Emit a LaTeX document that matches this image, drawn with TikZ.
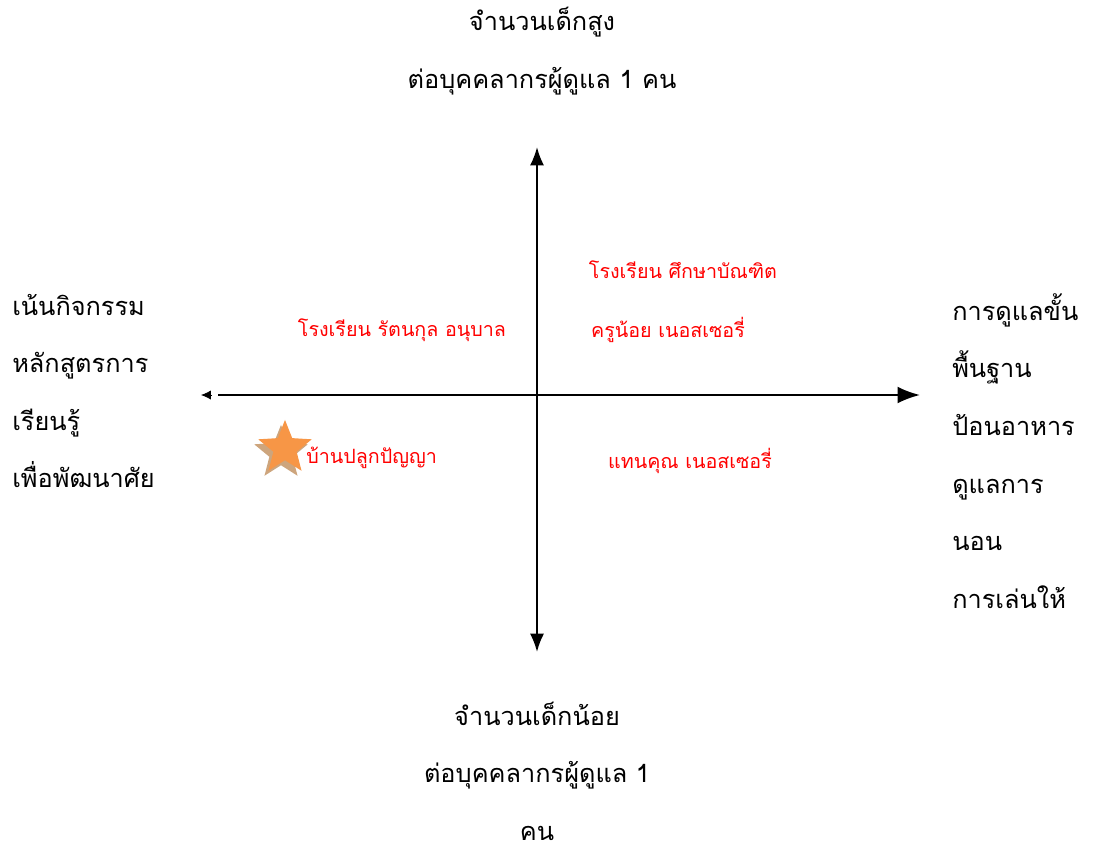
\documentclass[tikz,border=0pt]{standalone}
\usepackage{fontspec}
\newfontfamily\thaifont[Script=Thai]{Loma}
\usetikzlibrary{arrows.meta,shapes.geometric}

\begin{document}
\begin{tikzpicture}[x=0.025cm,y=-0.025cm,
        axis/.style={line width=1.5pt},
        bigtext/.style={font=\thaifont\fontsize{18pt}{41pt}\selectfont,inner sep=0pt},
        school/.style={font=\thaifont\fontsize{14pt}{17pt}\selectfont,text=red,inner sep=0pt},
        starmark/.style={star,star points=5,star point ratio=2.3,inner sep=0pt,draw=none}]

    \useasboundingbox (0,0) rectangle (1098,851);

    % axes
    \coordinate (o) at (537,395);
    \coordinate (n) at (537,147);
    \coordinate (s) at (537,652);
    \coordinate (e) at (920,395);
    \coordinate (wl) at (218,395);
    \coordinate (wt) at (212,395);
    \coordinate (w) at (201,395);

    \draw[axis,{Latex[length=13pt,width=10pt]}-{Latex[length=13pt,width=10pt]}] (n) -- (s);
    \draw[axis,-{Latex[length=16pt,width=12pt]}] (wl) -- (e);
    \draw[line width=0.5pt,-{Latex[length=7pt,width=6.5pt]}] (wt) -- (w);

    % axis captions
    \node[bigtext,align=center] (top) at (542,51) {จำนวนเด็กสูง\\ต่อบุคคลากรผู้ดูแล 1 คน};
    \node[bigtext,align=center] (bottom) at (537,771) {จำนวนเด็กน้อย\\ต่อบุคคลากรผู้ดูแล 1\\คน};
    \node[bigtext,align=left,anchor=west] (left) at (12,391) {เน้นกิจกรรม\\หลักสูตรการ\\เรียนรู้\\เพื่อพัฒนาศัย};
    \node[bigtext,align=left,anchor=west] (right) at (952,451) {การดูแลขั้น\\พื้นฐาน\\ป้อนอาหาร\\ดูแลการ\\นอน\\การเล่นให้};

    % schools
    \node[school] (suksa) at (683,270) {โรงเรียน ศึกษาบัณฑิต};
    \node[school] (rattana) at (402,330) {โรงเรียน รัตนกุล อนุบาล};
    \node[school] (krunoi) at (668,330) {ครูน้อย เนอสเซอรี่};
    \node[school] (thankhun) at (690,461) {แทนคุณ เนอสเซอรี่};
    \node[school,anchor=west] (banplook) at (306,458) {บ้านปลูกปัญญา};

    \node[starmark,fill={rgb,255:red,205;green,165;blue,125},minimum size=40] (shadow) at (281,453) {};
    \node[starmark,fill={rgb,255:red,247;green,150;blue,70},minimum size=40] (mark) at (285,448) {};
\end{tikzpicture}
\end{document}
